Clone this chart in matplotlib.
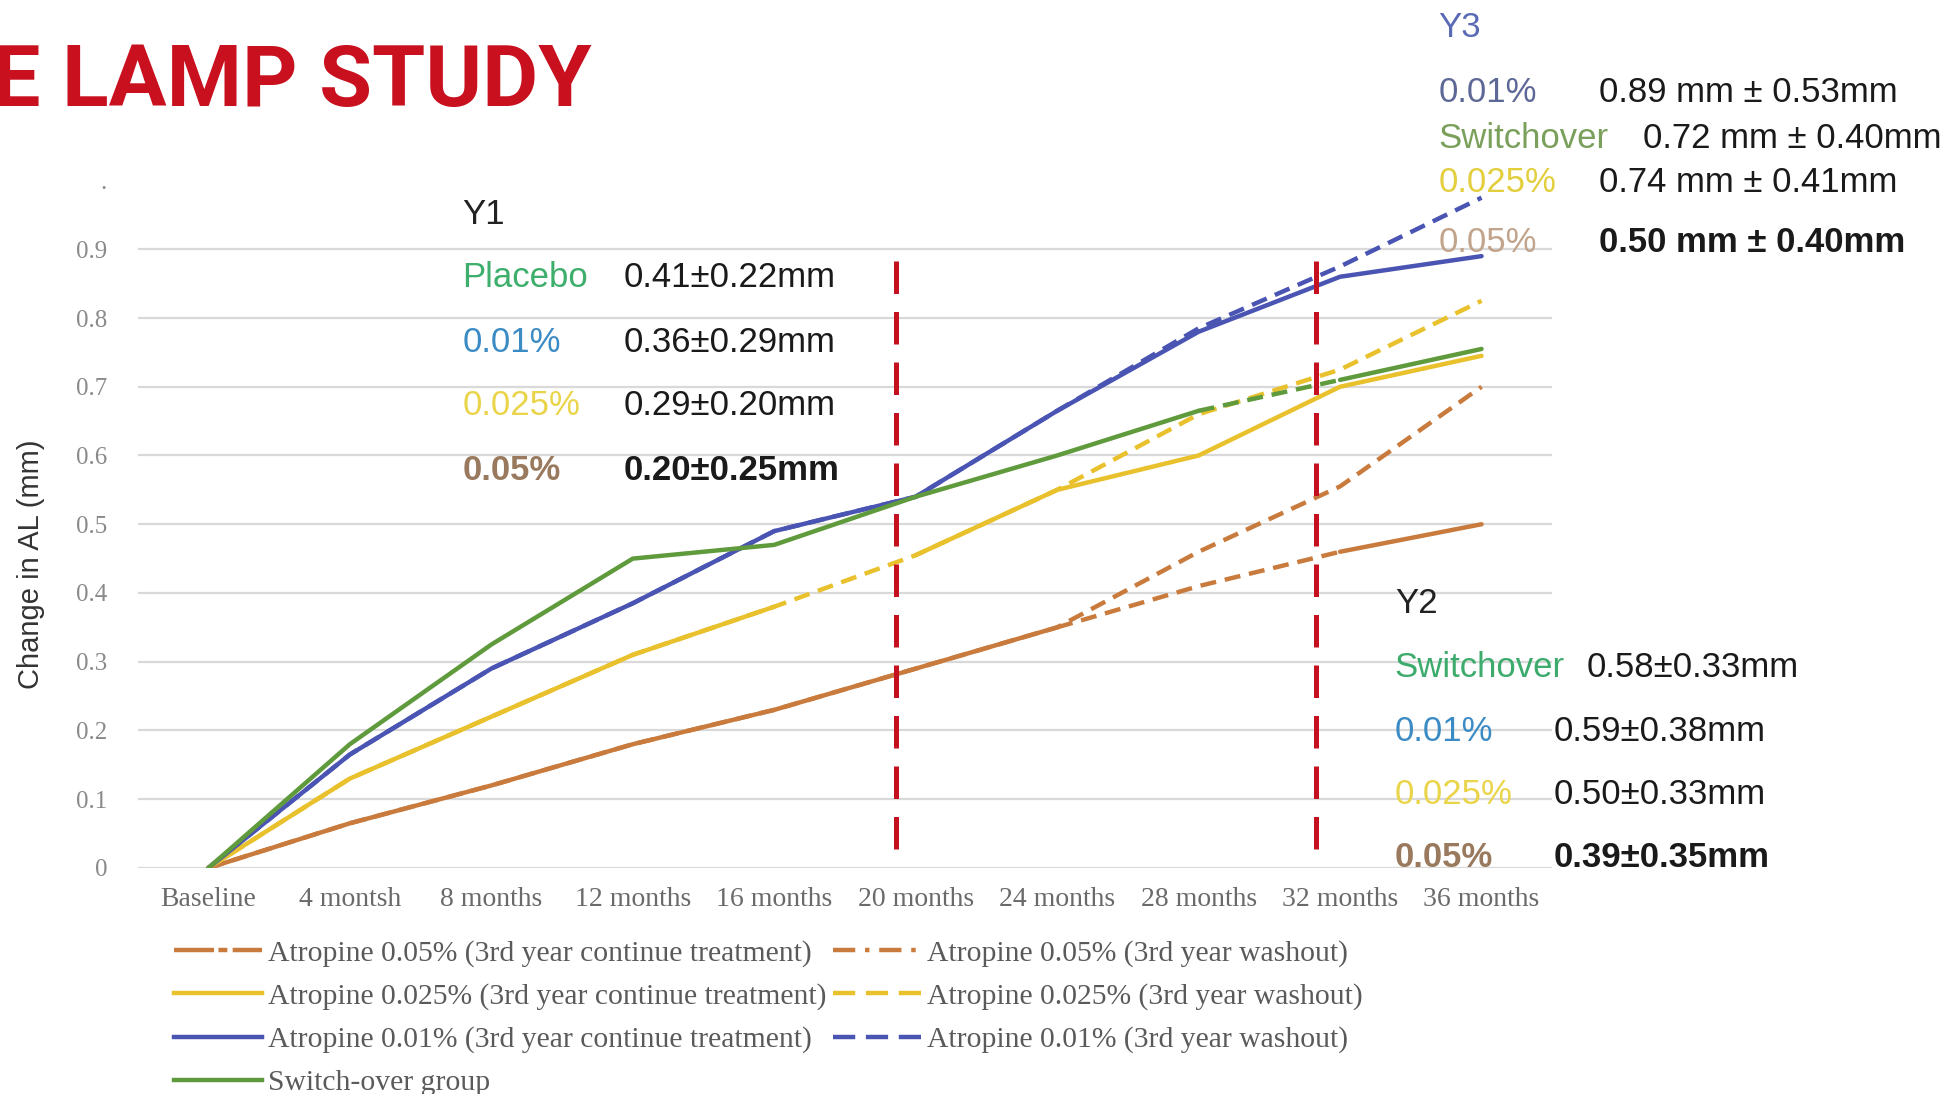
import numpy as np
import matplotlib
matplotlib.use("Agg")
import matplotlib.pyplot as plt
from matplotlib.lines import Line2D

# ---- data -------------------------------------------------------------
months = ["Baseline", "4 montsh", "8 months", "12 months", "16 months",
          "20 months", "24 months", "28 months", "32 months", "36 months"]

switch_over = [0, 0.18, 0.325, 0.45, 0.47, 0.54, 0.60, 0.665, 0.71, 0.755]
a001_cont = [0, 0.165, 0.29, 0.385, 0.49, 0.54, 0.665, 0.78, 0.86, 0.89]
a001_wash = [0, 0.165, 0.29, 0.385, 0.49, 0.54, 0.665, 0.785, 0.875, 0.975]
a0025_cont = [0, 0.13, 0.22, 0.31, 0.38, 0.455, 0.55, 0.60, 0.70, 0.745]
a0025_wash = [0, 0.13, 0.22, 0.31, 0.38, 0.455, 0.55, 0.66, 0.725, 0.825]
a005_cont = [0, 0.065, 0.12, 0.18, 0.23, 0.29, 0.35, 0.41, 0.46, 0.50]
a005_wash = [0, 0.065, 0.12, 0.18, 0.23, 0.29, 0.35, 0.46, 0.555, 0.70]

# year boundaries (in category units)
year_marks = [4.86, 7.83]

y1_groups = ["Placebo", "0.01%", "0.025%", "0.05%"]
y1_values = ["0.41±0.22mm", "0.36±0.29mm", "0.29±0.20mm", "0.20±0.25mm"]
y2_groups = ["Switchover", "0.01%", "0.025%", "0.05%"]
y2_values = ["0.58±0.33mm", "0.59±0.38mm", "0.50±0.33mm", "0.39±0.35mm"]
y3_groups = ["0.01%", "Switchover", "0.025%", "0.05%"]
y3_values = ["0.89 mm ± 0.53mm", "0.72 mm ± 0.40mm", "0.74 mm ± 0.41mm",
             "0.50 mm ± 0.40mm"]

legend_labels = [
    "Atropine 0.05% (3rd year continue treatment)",
    "Atropine 0.025% (3rd year continue treatment)",
    "Atropine 0.01% (3rd year continue treatment)",
    "Switch-over group",
    "Atropine 0.05% (3rd year washout)",
    "Atropine 0.025% (3rd year washout)",
    "Atropine 0.01% (3rd year washout)",
]

# ---- styles -----------------------------------------------------------
C_ORANGE = "#C97B3D"
C_YELLOW = "#E8C12C"
C_BLUE = "#4A55B3"
C_GREEN = "#5F9A3C"
C_RED = "#C4101F"
LW = 3.2
WASH_DASH = (0, (3.6, 2.0))

SANS = ["Liberation Sans", "DejaVu Sans"]
SERIF = ["Liberation Serif", "DejaVu Serif"]

fig = plt.figure(figsize=(19.44, 10.94), dpi=100)
ax = fig.add_axes([0.0708, 0.2066, 0.7277, 0.6284])
x = np.arange(len(months))


def plot_continue(values, color, gaps=(), dashed_gaps=False, z=3):
    """Solid line with optional dashed segments between given indices."""
    vals = np.asarray(values, dtype=float)
    start = 0
    for g0, g1 in gaps:
        ax.plot(x[start:g0 + 1], vals[start:g0 + 1], color=color, lw=LW,
                solid_capstyle="round", zorder=z)
        if dashed_gaps:
            ax.plot(x[g0:g1 + 1], vals[g0:g1 + 1], color=color, lw=LW,
                    linestyle=WASH_DASH, zorder=z)
        start = g1
    ax.plot(x[start:], vals[start:], color=color, lw=LW,
            solid_capstyle="round", zorder=z)


# washout series (dashed)
ax.plot(x, a005_wash, color=C_ORANGE, lw=LW, linestyle=WASH_DASH, zorder=2)
ax.plot(x, a0025_wash, color=C_YELLOW, lw=LW, linestyle=WASH_DASH, zorder=2)
ax.plot(x, a001_wash, color=C_BLUE, lw=LW, linestyle=WASH_DASH, zorder=2)

# continued treatment series and switch-over group
plot_continue(a005_cont, C_ORANGE, gaps=[(6, 8)], dashed_gaps=True)
plot_continue(a0025_cont, C_YELLOW, gaps=[(4, 5)])
plot_continue(a001_cont, C_BLUE)
plot_continue(switch_over, C_GREEN, gaps=[(7, 8)], dashed_gaps=True, z=4)

# year separators
for xm in year_marks:
    ax.plot([xm, xm], [0.027, 0.884], color=C_RED, lw=3.6,
            linestyle=(0, (6.5, 3.6)), zorder=5)

# ---- axes -------------------------------------------------------------
ax.set_xlim(-0.5, len(months) - 0.5)
ax.set_ylim(0, 1.0)
yt = np.round(np.arange(0, 1.01, 0.1), 1)
ax.set_yticks(yt)
ax.set_yticklabels(["0"] + [f"{v:.1f}" for v in yt[1:-1]] + ["."],
                   family=SERIF, fontsize=18, color="#8A8A8A")
ax.set_xticks(x)
ax.set_xticklabels(months, family=SERIF, fontsize=20, color="#6A6A6A")
ax.tick_params(axis="both", length=0)
ax.tick_params(axis="y", pad=22)
ax.tick_params(axis="x", pad=14)
for s in ax.spines.values():
    s.set_visible(False)
ax.yaxis.grid(True, color="#D9D9D9", lw=1.6)
ax.set_axisbelow(True)
ax.get_ygridlines()[-1].set_visible(False)

fig.text(0.016, 0.4845, "Change in AL (mm)", rotation=90, family=SANS,
         fontsize=21, color="#333333", ha="center", va="center")

# ---- title ------------------------------------------------------------
fig.text(-0.004, 0.925, "E LAMP STUDY", family=["Roboto", "DejaVu Sans"],
         fontweight="bold", fontsize=62, color="#C8101E", ha="left",
         va="center")

# ---- yearly summaries -------------------------------------------------
def block(title, tx, ty, title_color, groups, gcolors, gx, values, vxs, rows,
          bolds, gbolds):
    fig.text(tx, ty, title, family=SANS, fontsize=25, color=title_color,
             ha="left", va="center")
    for g, gc, v, vx, ry, b, gb in zip(groups, gcolors, values, vxs, rows,
                                        bolds, gbolds):
        fig.text(gx, ry, g, family=SANS, fontsize=25, color=gc, ha="left",
                 va="center", fontweight="bold" if gb else "normal")
        fig.text(vx, ry, v, family=SANS, fontsize=25, color="#1A1A1A",
                 ha="left", va="center", fontweight="bold" if b else "normal")


block("Y1", 0.2379, 0.804, "#222222", y1_groups,
      ["#3DAE6B", "#3B8BC4", "#E9D44A", "#9A7A5E"], 0.2379, y1_values,
      [0.321] * 4, [0.746, 0.687, 0.629, 0.570],
      [False, False, False, True], [False, False, False, True])

block("Y2", 0.7175, 0.448, "#222222", y2_groups,
      ["#3CAB6C", "#3B8BC4", "#E9D44A", "#9A7A5E"], 0.7175, y2_values,
      [0.8164, 0.799, 0.799, 0.799], [0.390, 0.331, 0.274, 0.216],
      [False, False, False, True], [False, False, False, True])

block("Y3", 0.740, 0.975, "#5B6AB5", y3_groups,
      ["#5D6896", "#7BA05B", "#E3CE3E", "#C2A48C"], 0.740, y3_values,
      [0.8227, 0.845, 0.8227, 0.8227], [0.915, 0.873, 0.833, 0.778],
      [False, False, False, True], [False, False, False, False])

# ---- legend -----------------------------------------------------------
handles = [
    Line2D([], [], color=C_ORANGE, lw=LW, linestyle=(0, (9, 1, 2, 1.2))),
    Line2D([], [], color=C_YELLOW, lw=LW),
    Line2D([], [], color=C_BLUE, lw=LW),
    Line2D([], [], color=C_GREEN, lw=LW),
    Line2D([], [], color=C_ORANGE, lw=LW, linestyle=(0, (5, 2.2, 1, 2.2))),
    Line2D([], [], color=C_YELLOW, lw=LW, linestyle=(0, (5, 2.4))),
    Line2D([], [], color=C_BLUE, lw=LW, linestyle=(0, (5, 2.4))),
]
leg = fig.legend(handles, legend_labels, ncol=2, loc="upper left",
                 bbox_to_anchor=(0.0893, 0.141), frameon=False,
                 prop={"family": SERIF, "size": 21.3}, handlelength=3.0,
                 handletextpad=0.2, columnspacing=0.2, labelspacing=0.55,
                 borderpad=0, borderaxespad=0)
for t in leg.get_texts():
    t.set_color("#5A5A5A")

fig.savefig("out.png", dpi=100)
